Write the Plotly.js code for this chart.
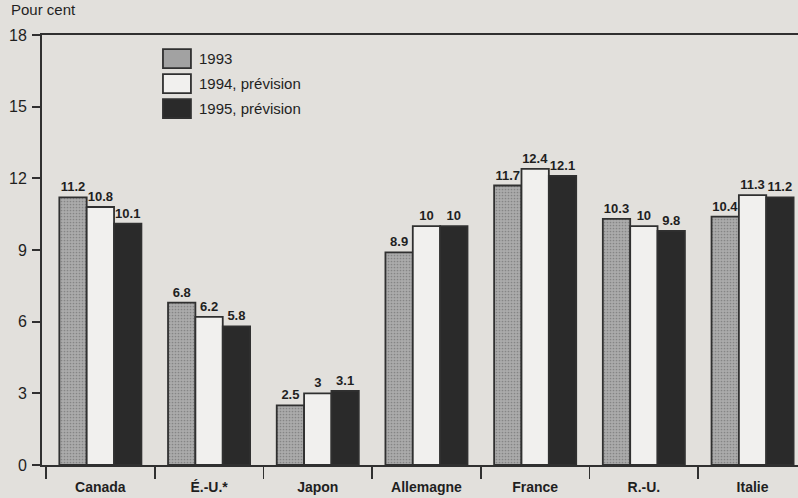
<!DOCTYPE html>
<html>
<head>
<meta charset="utf-8">
<script src="https://cdn.plot.ly/plotly-3.0.1.min.js"></script>
<style>
  html, body { margin: 0; padding: 0; background: #e2e0dc; }
  #chart { width: 798px; height: 498px; }
</style>
</head>
<body>
<div id="chart"></div>
<script>
const categories = ["Canada", "É.-U.*", "Japon", "Allemagne", "France", "R.-U.", "Italie"];
const seriesNames = ["1993", "1994, prévision", "1995, prévision"];
const values1993 = [11.2, 6.8, 2.5, 8.9, 11.7, 10.3, 10.4];
const values1994 = [10.8, 6.2, 3.0, 10, 12.4, 10, 11.3];
const values1995 = [10.1, 5.8, 3.1, 10, 12.1, 9.8, 11.2];
const yTicks = [0, 3, 6, 9, 12, 15, 18];

const FONT = "Liberation Sans, Arial, sans-serif";
const INK = "#1f1f1f";
const fills = [
  {color: "#a4a4a4", pattern: {shape: ".", bgcolor: "#ababab", fgcolor: "#858585", size: 3, solidity: 0.25}},
  {color: "#f1f0ee"},
  {color: "#2a2a2a"}
];
const allValues = [values1993, values1994, values1995];

const traces = allValues.map((vals, i) => ({
  type: "bar",
  name: seriesNames[i],
  x: categories,
  y: vals,
  text: vals.map(v => String(v)),
  textposition: "outside",
  cliponaxis: false,
  textfont: {family: FONT, size: 13, color: INK, weight: 700},
  marker: Object.assign({line: {color: "#303030", width: 1.8}}, fills[i]),
  showlegend: false,
  hoverinfo: "skip"
}));

// custom legend (large swatches as in the reference)
const legendShapes = [];
const legendAnn = [];
const x0 = 0.160, x1 = 0.197;
const rows = [[0.967, 0.923], [0.909, 0.865], [0.851, 0.807]];
rows.forEach((r, i) => {
  const f = fills[i];
  legendShapes.push({
    type: "rect", xref: "paper", yref: "paper",
    x0: x0, x1: x1, y0: r[1], y1: r[0],
    fillcolor: i === 0 ? "#a2a2a2" : f.color,
    line: {color: "#303030", width: 1.8}
  });
  legendAnn.push({
    xref: "paper", yref: "paper", x: 0.205, y: (r[0] + r[1]) / 2,
    xanchor: "left", yanchor: "middle", showarrow: false,
    text: seriesNames[i], font: {family: FONT, size: 15, color: INK}
  });
});

legendAnn.push({
  xref: "paper", yref: "paper", x: -0.044, y: 1.035,
  xanchor: "left", yanchor: "bottom", showarrow: false,
  text: "Pour cent", font: {family: FONT, size: 15, color: INK}
});

const layout = {
  width: 798, height: 498,
  margin: {l: 42, r: 0, t: 35, b: 33},
  paper_bgcolor: "#e2e0dc",
  plot_bgcolor: "#e2e0dc",
  barmode: "group",
  bargap: 0.245,
  bargroupgap: 0,
  font: {family: FONT, color: INK},
  xaxis: {
    type: "category",
    range: [-0.537, 6.418],
    showline: true, linecolor: "#303030", linewidth: 2,
    mirror: true,
    ticks: "outside", tickson: "boundaries", ticklen: 12, tickwidth: 1.8, tickcolor: "#303030",
    ticklabelstandoff: 8,
    tickfont: {family: FONT, size: 14, color: INK, weight: 700},
    showgrid: false, zeroline: false, fixedrange: true
  },
  yaxis: {
    range: [0, 18],
    tickvals: yTicks,
    ticktext: yTicks.map(String),
    showline: true, linecolor: "#303030", linewidth: 2,
    ticks: "outside", ticklen: 8, tickwidth: 1.8, tickcolor: "#303030",
    ticklabelstandoff: 2,
    tickfont: {family: FONT, size: 16, color: INK},
    showgrid: false, zeroline: false, fixedrange: true
  },
  shapes: legendShapes,
  annotations: legendAnn
};

Plotly.newPlot("chart", traces, layout, {staticPlot: true, displayModeBar: false});
</script>
</body>
</html>
